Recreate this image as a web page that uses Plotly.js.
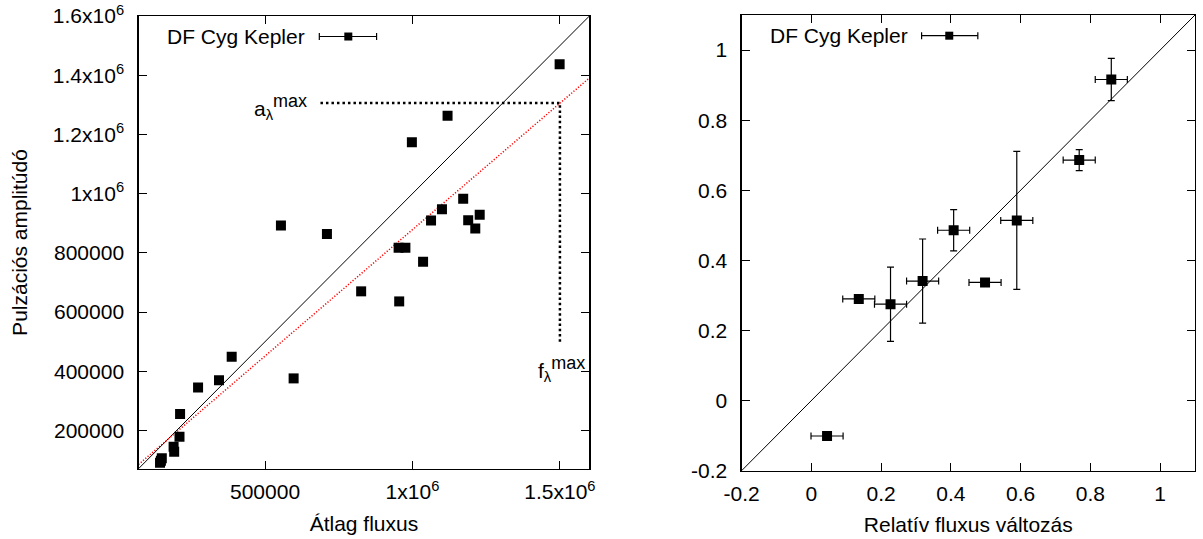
<!DOCTYPE html>
<html>
<head>
<meta charset="utf-8">
<script src="https://cdn.plot.ly/plotly-3.0.1.min.js"></script>
<style>
  html, body { margin: 0; padding: 0; background: #fff; }
  #chart { width: 1203px; height: 539px; }
</style>
</head>
<body>
<div id="chart"></div>
<script>
// ---------- Left panel: mean flux vs pulsation amplitude ----------
const meanFlux = [1499000, 1119000, 998000, 1172000, 1100000, 1228000, 1063000, 1189000, 1213000,
  554000, 710000, 953000, 976000, 1036000, 826000, 955000, 597000, 387000, 344000, 273000,
  212000, 210000, 190000, 192000, 150000, 144000, 147000];
const pulsAmp = [1437000, 1263000, 1174000, 983000, 947000, 929000, 909000, 910000, 882000,
  892000, 864000, 817000, 817000, 770000, 670000, 636000, 376000, 449000, 370000, 345000,
  256000, 179000, 145000, 128000, 106000, 91000, 98000];

// reference lines (left panel)
const diagLeftX = [71000, 1600000];
const diagLeftY = [71000, 1600000];
const fitLeftX = [71000, 1600000];
const fitLeftY = [85100, 1390900];
const aMaxLineX = [688000, 1500000];
const aMaxLineY = [1306000, 1306000];
const fMaxLineX = [1500000, 1500000];
const fMaxLineY = [500000, 1306000];

const leftXTicks = [500000, 1000000, 1500000];
const leftXTickText = ['500000', '1x10<sup>6</sup>', '1.5x10<sup>6</sup>'];
const leftYTicks = [200000, 400000, 600000, 800000, 1000000, 1200000, 1400000, 1600000];
const leftYTickText = ['200000', '400000', '600000', '800000', '1x10<sup>6</sup>',
  '1.2x10<sup>6</sup>', '1.4x10<sup>6</sup>', '1.6x10<sup>6</sup>'];

// ---------- Right panel: relative flux change ----------
const relFlux = [0.860, 0.768, 0.589, 0.408, 0.498, 0.319, 0.227, 0.136, 0.045];
const relAmp = [0.916, 0.686, 0.514, 0.486, 0.337, 0.341, 0.275, 0.290, -0.101];
const relFluxErr = [0.046, 0.046, 0.046, 0.046, 0.046, 0.046, 0.046, 0.046, 0.046];
const relAmpErr = [0.060, 0.030, 0.197, 0.059, 0, 0.120, 0.106, 0, 0];

const diagRightX = [-0.2, 1.1];
const diagRightY = [-0.2, 1.1];

const rightTicks = [-0.2, 0, 0.2, 0.4, 0.6, 0.8, 1];
const rightTickText = ['-0.2', '0', '0.2', '0.4', '0.6', '0.8', '1'];

const legendName = 'DF Cyg Kepler';

// ---------- traces ----------
const FONT = 'Liberation Sans, Arial, Helvetica, sans-serif';

const traces = [
  { x: diagLeftX, y: diagLeftY, mode: 'lines', xaxis: 'x', yaxis: 'y',
    line: { color: '#000', width: 1 }, hoverinfo: 'skip', showlegend: false },
  { x: fitLeftX, y: fitLeftY, mode: 'lines', xaxis: 'x', yaxis: 'y',
    line: { color: '#ff0000', width: 1.5, dash: '1.2px,1.8px' }, hoverinfo: 'skip', showlegend: false },
  { x: aMaxLineX, y: aMaxLineY, mode: 'lines', xaxis: 'x', yaxis: 'y',
    line: { color: '#000', width: 2.5, dash: '2.5px,3px' }, hoverinfo: 'skip', showlegend: false },
  { x: fMaxLineX, y: fMaxLineY, mode: 'lines', xaxis: 'x', yaxis: 'y',
    line: { color: '#000', width: 2.5, dash: '2.5px,2.7px' }, hoverinfo: 'skip', showlegend: false },
  { x: meanFlux, y: pulsAmp, mode: 'markers', name: legendName, xaxis: 'x', yaxis: 'y',
    marker: { symbol: 'square', size: 10, color: '#000' }, showlegend: false },

  { x: diagRightX, y: diagRightY, mode: 'lines', xaxis: 'x2', yaxis: 'y2',
    line: { color: '#000', width: 1 }, hoverinfo: 'skip', showlegend: false },
  { x: relFlux, y: relAmp, mode: 'markers', name: legendName, xaxis: 'x2', yaxis: 'y2',
    marker: { symbol: 'square', size: 10, color: '#000' },
    error_x: { type: 'data', array: relFluxErr, visible: true, color: '#000', thickness: 1.2, width: 3.5 },
    error_y: { type: 'data', array: relAmpErr, visible: true, color: '#000', thickness: 1.2, width: 3.5 },
    showlegend: false }
];

// ---------- legend samples (drawn as shapes in axis-domain space) ----------
function legendShapes(xr, yr, x0, x1, xm, yc) {
  return [
    { type: 'line', xref: xr, yref: yr, x0: x0, x1: x1, y0: yc, y1: yc, line: { color: '#000', width: 1.2 } },
    { type: 'line', xref: xr, yref: yr, x0: x0, x1: x0, ysizemode: 'pixel', yanchor: yc, y0: -3.5, y1: 3.5, line: { color: '#000', width: 1.2 } },
    { type: 'line', xref: xr, yref: yr, x0: x1, x1: x1, ysizemode: 'pixel', yanchor: yc, y0: -3.5, y1: 3.5, line: { color: '#000', width: 1.2 } },
    { type: 'rect', xref: xr, yref: yr, xsizemode: 'pixel', ysizemode: 'pixel', xanchor: xm, yanchor: yc,
      x0: -4, x1: 4, y0: -4, y1: 4, fillcolor: '#000', line: { width: 0 } }
  ];
}

const shapes = [].concat(
  legendShapes('x domain', 'y domain', 0.401, 0.528, 0.4653, 0.9547),
  legendShapes('x2 domain', 'y2 domain', 0.397, 0.521, 0.458, 0.9546)
);

const annotations = [
  { xref: 'x domain', yref: 'y domain', x: 0.373, y: 0.9547, xanchor: 'right', yanchor: 'middle',
    text: legendName, showarrow: false, font: { family: FONT, size: 21, color: '#000' } },
  { xref: 'x2 domain', yref: 'y2 domain', x: 0.372, y: 0.9546, xanchor: 'right', yanchor: 'middle',
    text: legendName, showarrow: false, font: { family: FONT, size: 21, color: '#000' } },
  { xref: 'x', yref: 'y', x: 650000, y: 1292000, xanchor: 'right', yanchor: 'middle',
    text: 'a<sub>λ</sub><sup><span style="font-size:18px">max</span></sup>', showarrow: false,
    font: { family: FONT, size: 21, color: '#000' } },
  { xref: 'x', yref: 'y', x: 1507000, y: 408000, xanchor: 'center', yanchor: 'middle',
    text: 'f<sub>λ</sub><sup><span style="font-size:18px">max</span></sup>', showarrow: false,
    font: { family: FONT, size: 21, color: '#000' } }
];

const axisCommon = {
  showgrid: false, zeroline: false, showline: true, linecolor: '#000', linewidth: 1.2,
  mirror: 'allticks', ticks: 'inside', ticklen: 8, tickwidth: 1, tickcolor: '#000',
  tickfont: { family: FONT, size: 21, color: '#000' }, automargin: false
};

const layout = {
  width: 1203, height: 539,
  margin: { l: 0, r: 0, t: 0, b: 0, pad: 0 },
  paper_bgcolor: '#fff', plot_bgcolor: '#fff',
  font: { family: FONT, size: 21, color: '#000' },
  showlegend: false,
  xaxis: Object.assign({}, axisCommon, {
    domain: [0.11513, 0.48995], range: [71000, 1600000], anchor: 'y',
    tickmode: 'array', tickvals: leftXTicks, ticktext: leftXTickText, ticklabelstandoff: 4,
    title: { text: 'Átlag fluxus', font: { family: FONT, size: 21, color: '#000' }, standoff: 13 }
  }),
  yaxis: Object.assign({}, axisCommon, {
    domain: [0.12987, 0.97032], range: [70000, 1600000], anchor: 'x',
    tickmode: 'array', tickvals: leftYTicks, ticktext: leftYTickText, ticklabelstandoff: 9,
    title: { text: 'Pulzációs amplitúdó', font: { family: FONT, size: 21, color: '#000' }, standoff: 19 }
  }),
  xaxis2: Object.assign({}, axisCommon, {
    domain: [0.61646, 0.99335], range: [-0.2, 1.1], anchor: 'y2',
    tickmode: 'array', tickvals: rightTicks, ticktext: rightTickText, ticklabelstandoff: 4,
    title: { text: 'Relatív fluxus változás', font: { family: FONT, size: 21, color: '#000' }, standoff: 13 }
  }),
  yaxis2: Object.assign({}, axisCommon, {
    domain: [0.12671, 0.97217], range: [-0.2, 1.1], anchor: 'x2',
    tickmode: 'array', tickvals: rightTicks, ticktext: rightTickText, ticklabelstandoff: 9
  }),
  shapes: shapes,
  annotations: annotations
};

Plotly.newPlot('chart', traces, layout, { staticPlot: true, displayModeBar: false });
</script>
</body>
</html>
